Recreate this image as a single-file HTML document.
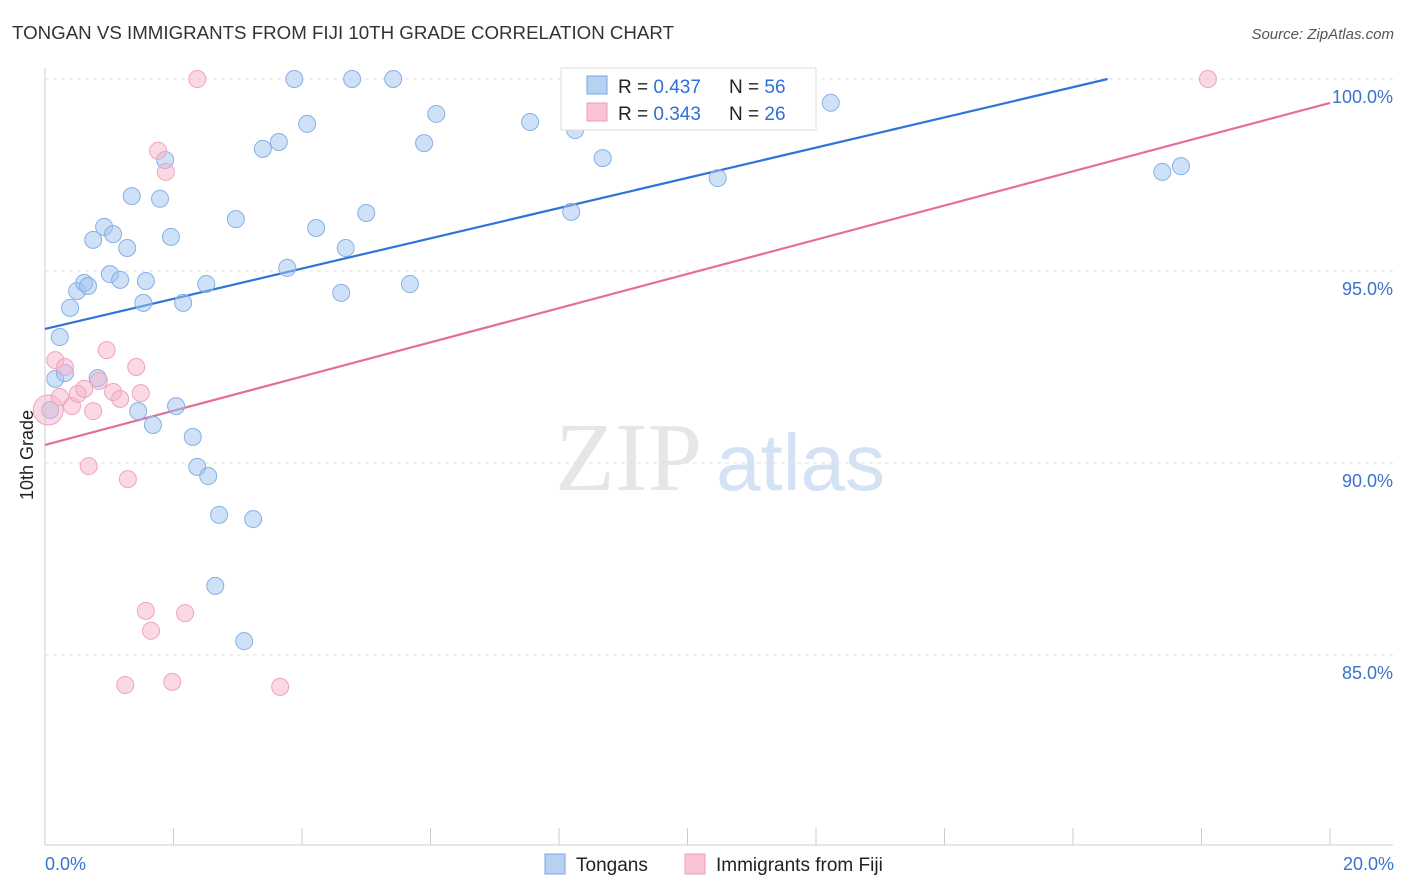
<!DOCTYPE html>
<html><head><meta charset="utf-8"><style>
body{margin:0;background:#fff;font-family:"Liberation Sans",sans-serif;}
svg{display:block}
</style></head><body>
<svg id="c" width="1406" height="892">
<text x="12" y="39" font-size="18" fill="#333" textLength="662" lengthAdjust="spacingAndGlyphs">TONGAN VS IMMIGRANTS FROM FIJI 10TH GRADE CORRELATION CHART</text>
<text x="1394" y="39" font-size="15" fill="#555" font-style="italic" text-anchor="end">Source: ZipAtlas.com</text>
<text x="555" y="490" font-size="98" fill="#e6e6e6" font-family="Liberation Serif">ZIP</text>
<text x="716" y="490" font-size="80" fill="#d4e2f4">atlas</text>
<text transform="translate(33,455) rotate(-90)" font-size="18" fill="#222" text-anchor="middle">10th Grade</text>
<g id="grid"></g><g id="lines"></g><g id="pts"></g>
<g>
<rect x="561" y="68" width="255" height="62" fill="#fff" stroke="#ddd"/>
<rect x="587" y="76" width="20" height="18" fill="#b7d1f3" stroke="#7aa7e0"/>
<rect x="587" y="103" width="20" height="18" fill="#f9c5d5" stroke="#ee9bb6"/>
<text x="618" y="93" font-size="19" fill="#222">R = <tspan fill="#2f6fd6">0.437</tspan></text>
<text x="729" y="93" font-size="19" fill="#222">N = <tspan fill="#2f6fd6">56</tspan></text>
<text x="618" y="120" font-size="19" fill="#222">R = <tspan fill="#2f6fd6">0.343</tspan></text>
<text x="729" y="120" font-size="19" fill="#222">N = <tspan fill="#2f6fd6">26</tspan></text>
</g>
<g>
<rect x="545" y="854" width="20" height="20" fill="#b7d1f3" stroke="#7aa7e0"/>
<text x="576" y="871" font-size="19" fill="#222">Tongans</text>
<rect x="685" y="854" width="20" height="20" fill="#f9c5d5" stroke="#ee9bb6"/>
<text x="716" y="871" font-size="19" fill="#222">Immigrants from Fiji</text>
</g>
<text x="45" y="870" font-size="18" fill="#3a72d0">0.0%</text>
<text x="1394" y="870" font-size="18" fill="#3a72d0" text-anchor="end">20.0%</text>
</svg>
<script>
const yTicks=[100,95,90,85];
const yTickLabels=["100.0%","95.0%","90.0%","85.0%"];
const blueX=[0.08,0.16,0.23,0.31,0.39,0.50,0.61,0.67,0.75,0.82,0.92,1.01,1.06,1.17,1.28,1.35,1.45,1.57,1.53,1.68,1.79,1.87,1.96,2.04,2.15,2.30,2.37,2.51,2.54,2.65,2.71,2.97,3.10,3.24,3.39,3.64,3.77,3.88,4.08,4.22,4.61,4.68,4.78,5.00,5.42,5.68,5.90,6.09,7.55,8.19,8.25,8.68,10.47,12.23,17.39,17.68];
const blueY=[91.38,92.19,93.28,92.34,94.04,94.48,94.69,94.61,95.81,92.21,96.15,94.92,95.96,94.77,95.60,96.95,91.35,94.74,94.17,90.99,96.88,97.89,95.89,91.48,94.17,90.68,89.90,94.66,89.66,86.80,88.65,96.35,85.36,88.54,98.18,98.36,95.08,100,98.83,96.12,94.43,95.60,100,96.51,100,94.66,98.33,99.09,98.88,96.54,98.67,97.94,97.42,99.38,97.58,97.73];
const pinkX=[0.05,0.16,0.23,0.31,0.42,0.51,0.61,0.68,0.75,0.84,0.96,1.06,1.17,1.25,1.29,1.42,1.49,1.57,1.65,1.76,1.88,1.98,2.18,2.37,3.66,18.10];
const pinkY=[91.38,92.68,91.72,92.50,91.48,91.80,91.93,89.92,91.35,92.14,92.94,91.85,91.67,84.22,89.58,92.50,91.82,86.15,85.63,98.13,97.58,84.30,86.09,100,84.17,100];
const blueTrend=[93.49,0.3936];
const pinkTrend=[90.47,0.4454];
const sx=v=>45+v*64.25, sy=v=>79+(100-v)*38.4;
const NS="http://www.w3.org/2000/svg";
function mk(t,a,p){const e=document.createElementNS(NS,t);for(const k in a)e.setAttribute(k,a[k]);p.appendChild(e);return e;}
const g=document.getElementById('grid');
yTicks.forEach((t,i)=>{
 const l=mk('line',{x1:45,x2:1393,y1:sy(t),y2:sy(t),stroke:'#e2e2e2','stroke-dasharray':'4,4'},g);
 
 
 const tx=mk('text',{x:1393,y:sy(t)+24,'font-size':18,fill:'#3a72d0','text-anchor':'end'},g);
 tx.textContent=yTickLabels[i];
 
 
});
const ax=mk('line',{x1:45,x2:45,y1:68,y2:845,stroke:'#ccc'},g);


const bx=mk('line',{x1:45,x2:1393,y1:845,y2:845,stroke:'#ccc'},g);


for(let i=0;i<=10;i++){const t=mk('line',{x1:sx(i*2),x2:sx(i*2),y1:828,y2:845,stroke:'#ccc'},g);
 
 }
const L=document.getElementById('lines');
const bEnd=(100-blueTrend[0])/blueTrend[1];
const bl=mk('line',{x1:sx(0),y1:sy(blueTrend[0]),x2:sx(bEnd),y2:sy(100),stroke:'#2f74d8','stroke-width':2.2},L);


const pl=mk('line',{x1:sx(0),y1:sy(pinkTrend[0]),x2:sx(20),y2:sy(pinkTrend[0]+20*pinkTrend[1]),stroke:'#e56e99','stroke-width':2.2},L);


const P=document.getElementById('pts');
blueX.forEach((x,i)=>{const c=mk('circle',{cx:sx(x),cy:sy(blueY[i]),r:8.5,fill:'rgba(160,195,240,0.5)',stroke:'#86b0e6','stroke-width':1},P);
 
 });
pinkX.forEach((x,i)=>{const c=mk('circle',{cx:sx(x),cy:sy(pinkY[i]),r:i==0?15:8.5,fill:'rgba(246,180,203,0.5)',stroke:'#f0a3bd','stroke-width':1},P);
 
 });
</script>
</body></html>
